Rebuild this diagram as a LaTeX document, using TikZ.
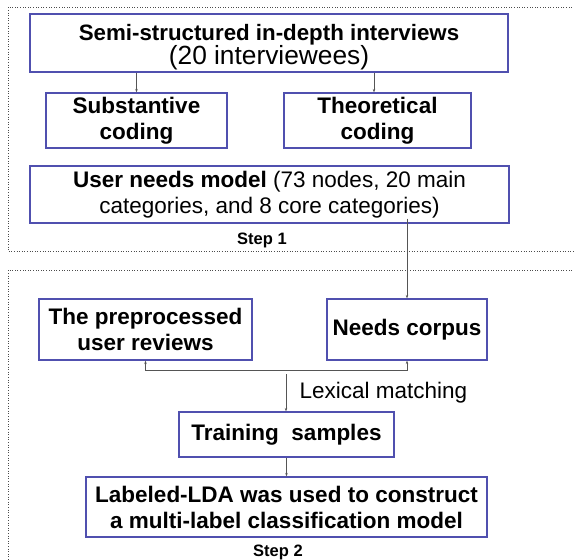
\documentclass[tikz,border=0pt]{standalone}
\usepackage{fontspec}
\setmainfont{Liberation Sans}
\usetikzlibrary{arrows.meta}
\definecolor{boxblue}{RGB}{80,80,175}
\definecolor{linegray}{RGB}{85,85,85}
\tikzset{
  procbox/.style={draw=boxblue, line width=1.2pt, fill=white, align=center,
    inner sep=0pt, font=\fontsize{22.5}{26}\selectfont},
  boxtext/.style={align=center, inner sep=0pt},
  flow/.style={draw=linegray, line width=0.6pt, -{Stealth[length=3.5pt,width=2.5pt]}},
  stepframe/.style={draw=black!70, dotted, line width=0.6pt},
  steplabel/.style={font=\fontsize{16.5}{19}\selectfont\bfseries}
}
\begin{document}
\begin{tikzpicture}[x=1pt,y=-1pt]
  \useasboundingbox (0,0) rectangle (574,560);
  % dotted frames of the two steps (open on the right / bottom)
  \draw[stepframe] (590,7) -- (8,7) -- (8,251) -- (590,251);
  \draw[stepframe] (590,270) -- (8,270) -- (8,580);

  % step 1
  \node[procbox, minimum width=478pt, minimum height=58pt] (interv) at (269,43) {};
  \node[boxtext] (intervtext) at (269,47)
    {{\fontsize{22.3}{28}\selectfont\textbf{Semi-structured in-depth interviews}}\\
     {\fontsize{26.3}{28}\selectfont(20 interviewees)}};
  \node[procbox, minimum width=181pt, minimum height=55pt] (subst) at (136.5,120.5)
    {\textbf{Substantive}\\\textbf{coding}};
  \node[procbox, minimum width=187pt, minimum height=55pt] (theo) at (377.5,120.5)
    {\textbf{Theoretical}\\\textbf{coding}};
  \node[procbox, minimum width=479pt, minimum height=57pt] (model) at (269.5,194.5)
    {\textbf{User needs model} (73 nodes, 20 main\\categories, and 8 core categories)};
  \node[steplabel] (step1) at (262,240) {Step 1};

  % step 2
  \node[procbox, minimum width=213pt, minimum height=61pt] (reviews) at (145.5,329.5)
    {\textbf{The preprocessed}\\\textbf{user reviews}};
  \node[procbox, minimum width=160pt, minimum height=61pt] (corpus) at (407,329.5)
    {\textbf{Needs corpus}};
  \node[procbox, minimum width=215pt, minimum height=45pt] (train) at (286.5,434.5)
    {\textbf{Training\ \ samples}};
  \node[procbox, minimum width=401pt, minimum height=60pt] (lda) at (286.5,507)
    {\textbf{Labeled-LDA was used to construct}\\\textbf{a multi-label classification model}};
  \node[steplabel] (step2) at (278,552) {Step 2};

  % connectors
  \draw[flow] (interv.south -| subst.north) -- (subst.north);
  \draw[flow] (interv.south -| 374,0) -- (theo.north -| 374,0);
  \draw[flow] ([yshift=5pt]model.south -| corpus.north) -- (corpus.north);
  \draw[draw=linegray, line width=0.6pt, {Stealth[length=3.5pt,width=2.5pt]}-{Stealth[length=3.5pt,width=2.5pt]}]
    (reviews.south) -- ++(0,10) -| (corpus.south);
  \coordinate (merge) at (286,374);
  \draw[flow] (merge) -- (train.north -| merge);
  \node[anchor=west, font=\fontsize{22.5}{26}\selectfont] (lexlabel) at (296,393) {Lexical matching};
  \draw[flow] (train.south) -- (lda.north);
\end{tikzpicture}
\end{document}
